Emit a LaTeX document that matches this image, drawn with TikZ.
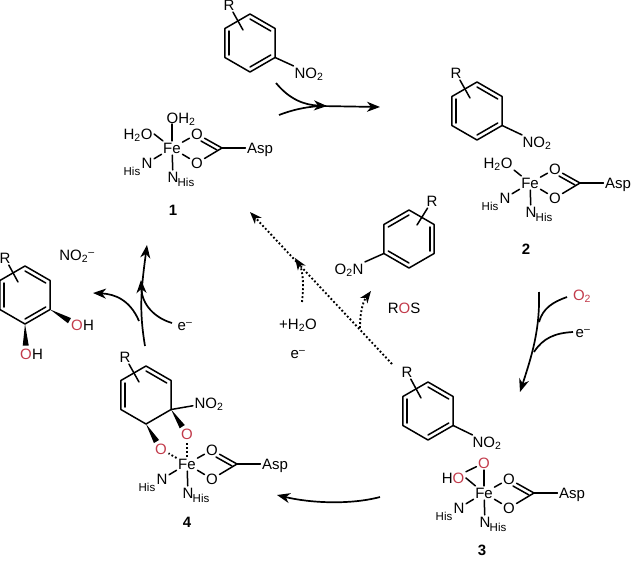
\documentclass[tikz,border=0pt]{standalone}
\usepackage{fontspec}
\setmainfont{Liberation Sans}
\usetikzlibrary{arrows.meta,calc,positioning}
\definecolor{oxred}{HTML}{C23B4B}
\tikzset{
    atom/.style={inner sep=1.5pt, text height=10.8pt, text depth=0pt, font=\fontsize{15}{15}\selectfont},
    redatom/.style={atom, text=oxred},
    hislabel/.style={inner sep=0pt, text height=8.3pt, text depth=0pt, font=\fontsize{11.5}{11.5}\selectfont},
    numlabel/.style={atom, inner sep=0pt, font=\fontsize{15}{15}\selectfont\bfseries},
    bond/.style={line width=1.5pt, line join=round, line cap=round},
    dotbond/.style={line width=1.9pt, dash pattern=on 1.8pt off 2.2pt},
    curvearrow/.style={line width=1.7pt, -{Stealth[length=13pt,width=10pt,inset=4pt]}},
    curveline/.style={line width=1.7pt},
    dotarrow/.style={dotbond, -{Stealth[length=12pt,width=9pt,inset=3.5pt]}},
    % six-sided ring, the argument lists the inner lines
    hexring/.pic={
        \foreach \a [count=\n] in {-90,-30,30,90,150,210} {
            \coordinate (-v\n) at (\a:29);
            \coordinate (-w\n) at (\a:24);
        }
        \draw[bond] (-v1) -- (-v2) -- (-v3) -- (-v4) -- (-v5) -- (-v6) -- cycle;
        \foreach \p/\q in {#1} {
            \draw[bond] (-w\p) -- (-w\q);
        }
        \coordinate (-sl) at (-7,-13);
        \coordinate (-sr) at (8,-14);
    },
    % iron with the carboxylate and the two histidines
    fecore/.pic={
        \node[atom] (-fe) at (0,0) {Fe};
        \node[atom] (-ou) at (25,-14) {O};
        \node[atom] (-od) at (25,15) {O};
        \coordinate (-c) at (50,0);
        \coordinate (-ia) at (29,-7);
        \coordinate (-ib) at (45,2);
        \node[atom] (-asp) at (88,0) {Asp};
        \node[atom] (-ne) at (-25,15) {N};
        \node[hislabel] (-he) at (-40,23) {His};
        \node[atom] (-nd) at (1,29) {N};
        \node[hislabel] (-hd) at (14,34) {His};
        \draw[bond] (-fe) -- (-ou);
        \draw[bond] (-fe) -- (-od);
        \draw[bond] (-ou) -- (-c) -- (-od);
        \draw[bond] (-ia) -- (-ib);
        \draw[bond] (-c) -- (-asp);
        \draw[bond] (-fe) -- (-ne);
        \draw[bond] (-fe) -- (-nd);
    }
}
\newcommand{\wedgebond}[3]{
    \coordinate (wedge) at ($(#1)!#3!(#2)$);
    \fill (#1) -- ($(wedge)!3pt!90:(#1)$) -- ($(wedge)!3pt!-90:(#1)$) -- cycle;
}
\begin{document}
\begin{tikzpicture}[x=1pt,y=-1pt]
    \useasboundingbox (0,0) rectangle (632,560);

    % Complex 1 with the free ring above it
    \pic (ringa) at (250,43) {hexring={1/2,3/4,5/6}};
    \node[atom] (ra) at (229,5) {R};
    \node[atom] (noa) at (309,73) {NO\textsubscript{2}};
    \draw[bond] (ra) -- (ringa-sl);
    \draw[bond] (ringa-v3) -- (noa);
    \pic (fea) at (172,148) {fecore};
    \node[atom] (wata) at (181,118) {OH\textsubscript{2}};
    \node[atom] (watb) at (138,134) {H\textsubscript{2}O};
    \coordinate (wataend) at (172,124);
    \draw[bond] (fea-fe) -- (wataend);
    \draw[bond] (fea-fe) -- (watb.east);
    \node[numlabel] (numa) at (173,210) {1};

    % Complex 2
    \pic (ringb) at (477,111) {hexring={1/2,3/4,5/6}};
    \node[atom] (rb) at (456,73) {R};
    \node[atom] (nob) at (537,142) {NO\textsubscript{2}};
    \draw[bond] (rb) -- (ringb-sl);
    \draw[bond] (ringb-v3) -- (nob);
    \pic (feb) at (530,183) {fecore};
    \node[atom] (watc) at (498,163) {H\textsubscript{2}O};
    \draw[bond] (feb-fe) -- (watc.south east);
    \node[numlabel] (numb) at (526,249) {2};

    % Complex 3
    \pic (ringc) at (428,411) {hexring={1/2,3/4,5/6}};
    \node[atom] (rc) at (407,372) {R};
    \node[atom] (noc) at (487,442) {NO\textsubscript{2}};
    \draw[bond] (rc) -- (ringc-sl);
    \draw[bond] (ringc-v3) -- (noc);
    \pic (fec) at (484,493) {fecore};
    \node[redatom] (oxa) at (484,463) {O};
    \node[atom] (oxb) at (453,478) {H\textcolor{oxred}{O}};
    \draw[bond] (fec-fe) -- (oxa);
    \draw[bond] (fec-fe) -- (oxb.east);
    \draw[bond] (oxb) -- (oxa);
    \node[numlabel] (numc) at (482,550) {3};

    % Complex 4 on the opened ring
    \pic (ringd) at (146,395) {hexring={1/2,5/6}};
    \node[atom] (rd) at (125,357) {R};
    \node[atom] (nod) at (209,403) {NO\textsubscript{2}};
    \draw[bond] (rd) -- (ringd-sl);
    \draw[bond] (ringd-v3) -- (nod);
    \pic (fed) at (187,464) {fecore};
    \node[redatom] (oxc) at (187,434) {O};
    \node[redatom] (oxd) at (161,449) {O};
    \wedgebond{ringd-v3}{oxc}{.7}
    \wedgebond{ringd-v4}{oxd}{.7}
    \draw[dotbond] (fed-fe) -- (oxc);
    \draw[dotbond] (fed-fe) -- (oxd);
    \node[numlabel] (numd) at (187,522) {4};

    % Released ring on the inside of the cycle
    \pic (ringe) at (409,239) {hexring={6/1,2/3,4/5}};
    \node[atom] (re) at (432,201) {R};
    \node[atom] (noe) at (349,269) {O\textsubscript{2}N};
    \draw[bond] (re) -- (ringe-sr);
    \draw[bond] (ringe-v5) -- (noe);
    \node[atom] (ros) at (404,308) {R\textcolor{oxred}{O}S};
    \node[atom] (addw) at (298,324) {+H\textsubscript{2}O};
    \node[atom] (elb) at (298,353) {e\textsuperscript{–}};

    % Product on the left
    \pic (ringf) at (25,295) {hexring={1/2,3/4,5/6}};
    \node[atom] (rf) at (5,258) {R};
    \node[redatom] (oxe) at (77,325) {O};
    \node[atom, right=-1.5pt of oxe, inner xsep=0pt] (hya) {H};
    \node[redatom] (oxf) at (26,354) {O};
    \node[atom, right=-1.5pt of oxf, inner xsep=0pt] (hyb) {H};
    \draw[bond] (rf) -- (ringf-sl);
    \wedgebond{ringf-v3}{oxe}{.72}
    \wedgebond{ringf-v4}{oxf}{.72}
    \node[atom] (nit) at (77,255) {NO\textsubscript{2}\textsuperscript{–}};

    % Top arrow
    \coordinate (sa) at (276,83);
    \coordinate (sb) at (279,115);
    \coordinate (sc) at (327,106);
    \coordinate (sd) at (380,107);
    \draw[curvearrow] (sa) .. controls (290,100) and (305,105) .. (sc);
    \draw[curveline] (sb) .. controls (292,110) and (305,107) .. (320,106);
    \draw[curvearrow] (320,106) -- (sd);

    % Right arrow
    \node[redatom] (oxg) at (582,295) {O\textsubscript{2}};
    \node[atom] (ela) at (583,332) {e\textsuperscript{–}};
    \coordinate (ta) at (539,292);
    \coordinate (tb) at (520,392);
    \draw[curvearrow] (ta) .. controls (540,330) and (532,355) .. (tb);
    \draw[curveline] (567,297) .. controls (553,302) and (543,308) .. (539,322);
    \draw[curveline] (573,332) .. controls (555,333) and (543,338) .. (534,352);

    % Bottom arrow
    \coordinate (ua) at (380,497);
    \coordinate (ub) at (277,495);
    \draw[curvearrow] (ua) .. controls (350,505) and (310,503) .. (ub);

    % Left arrows
    \node[atom] (elc) at (185,325) {e\textsuperscript{–}};
    \coordinate (va) at (145,346);
    \coordinate (vb) at (147,245);
    \coordinate (vc) at (93,293);
    \draw[curvearrow] (va) .. controls (139,310) and (141,290) .. (vb);
    \draw[curvearrow] (172,323) .. controls (155,318) and (142,305) .. (141,280);
    \draw[curvearrow] (139,321) .. controls (130,300) and (115,294) .. (vc);

    % Dotted arrows
    \coordinate (wa) at (392,364);
    \coordinate (wb) at (250,212);
    \draw[dotarrow] (wa) -- (wb);
    \draw[dotarrow] (360,328) .. controls (360,315) and (362,303) .. (371,291);
    \draw[dotarrow] (302,302) .. controls (304,285) and (303,270) .. (295,258);
\end{tikzpicture}
\end{document}
